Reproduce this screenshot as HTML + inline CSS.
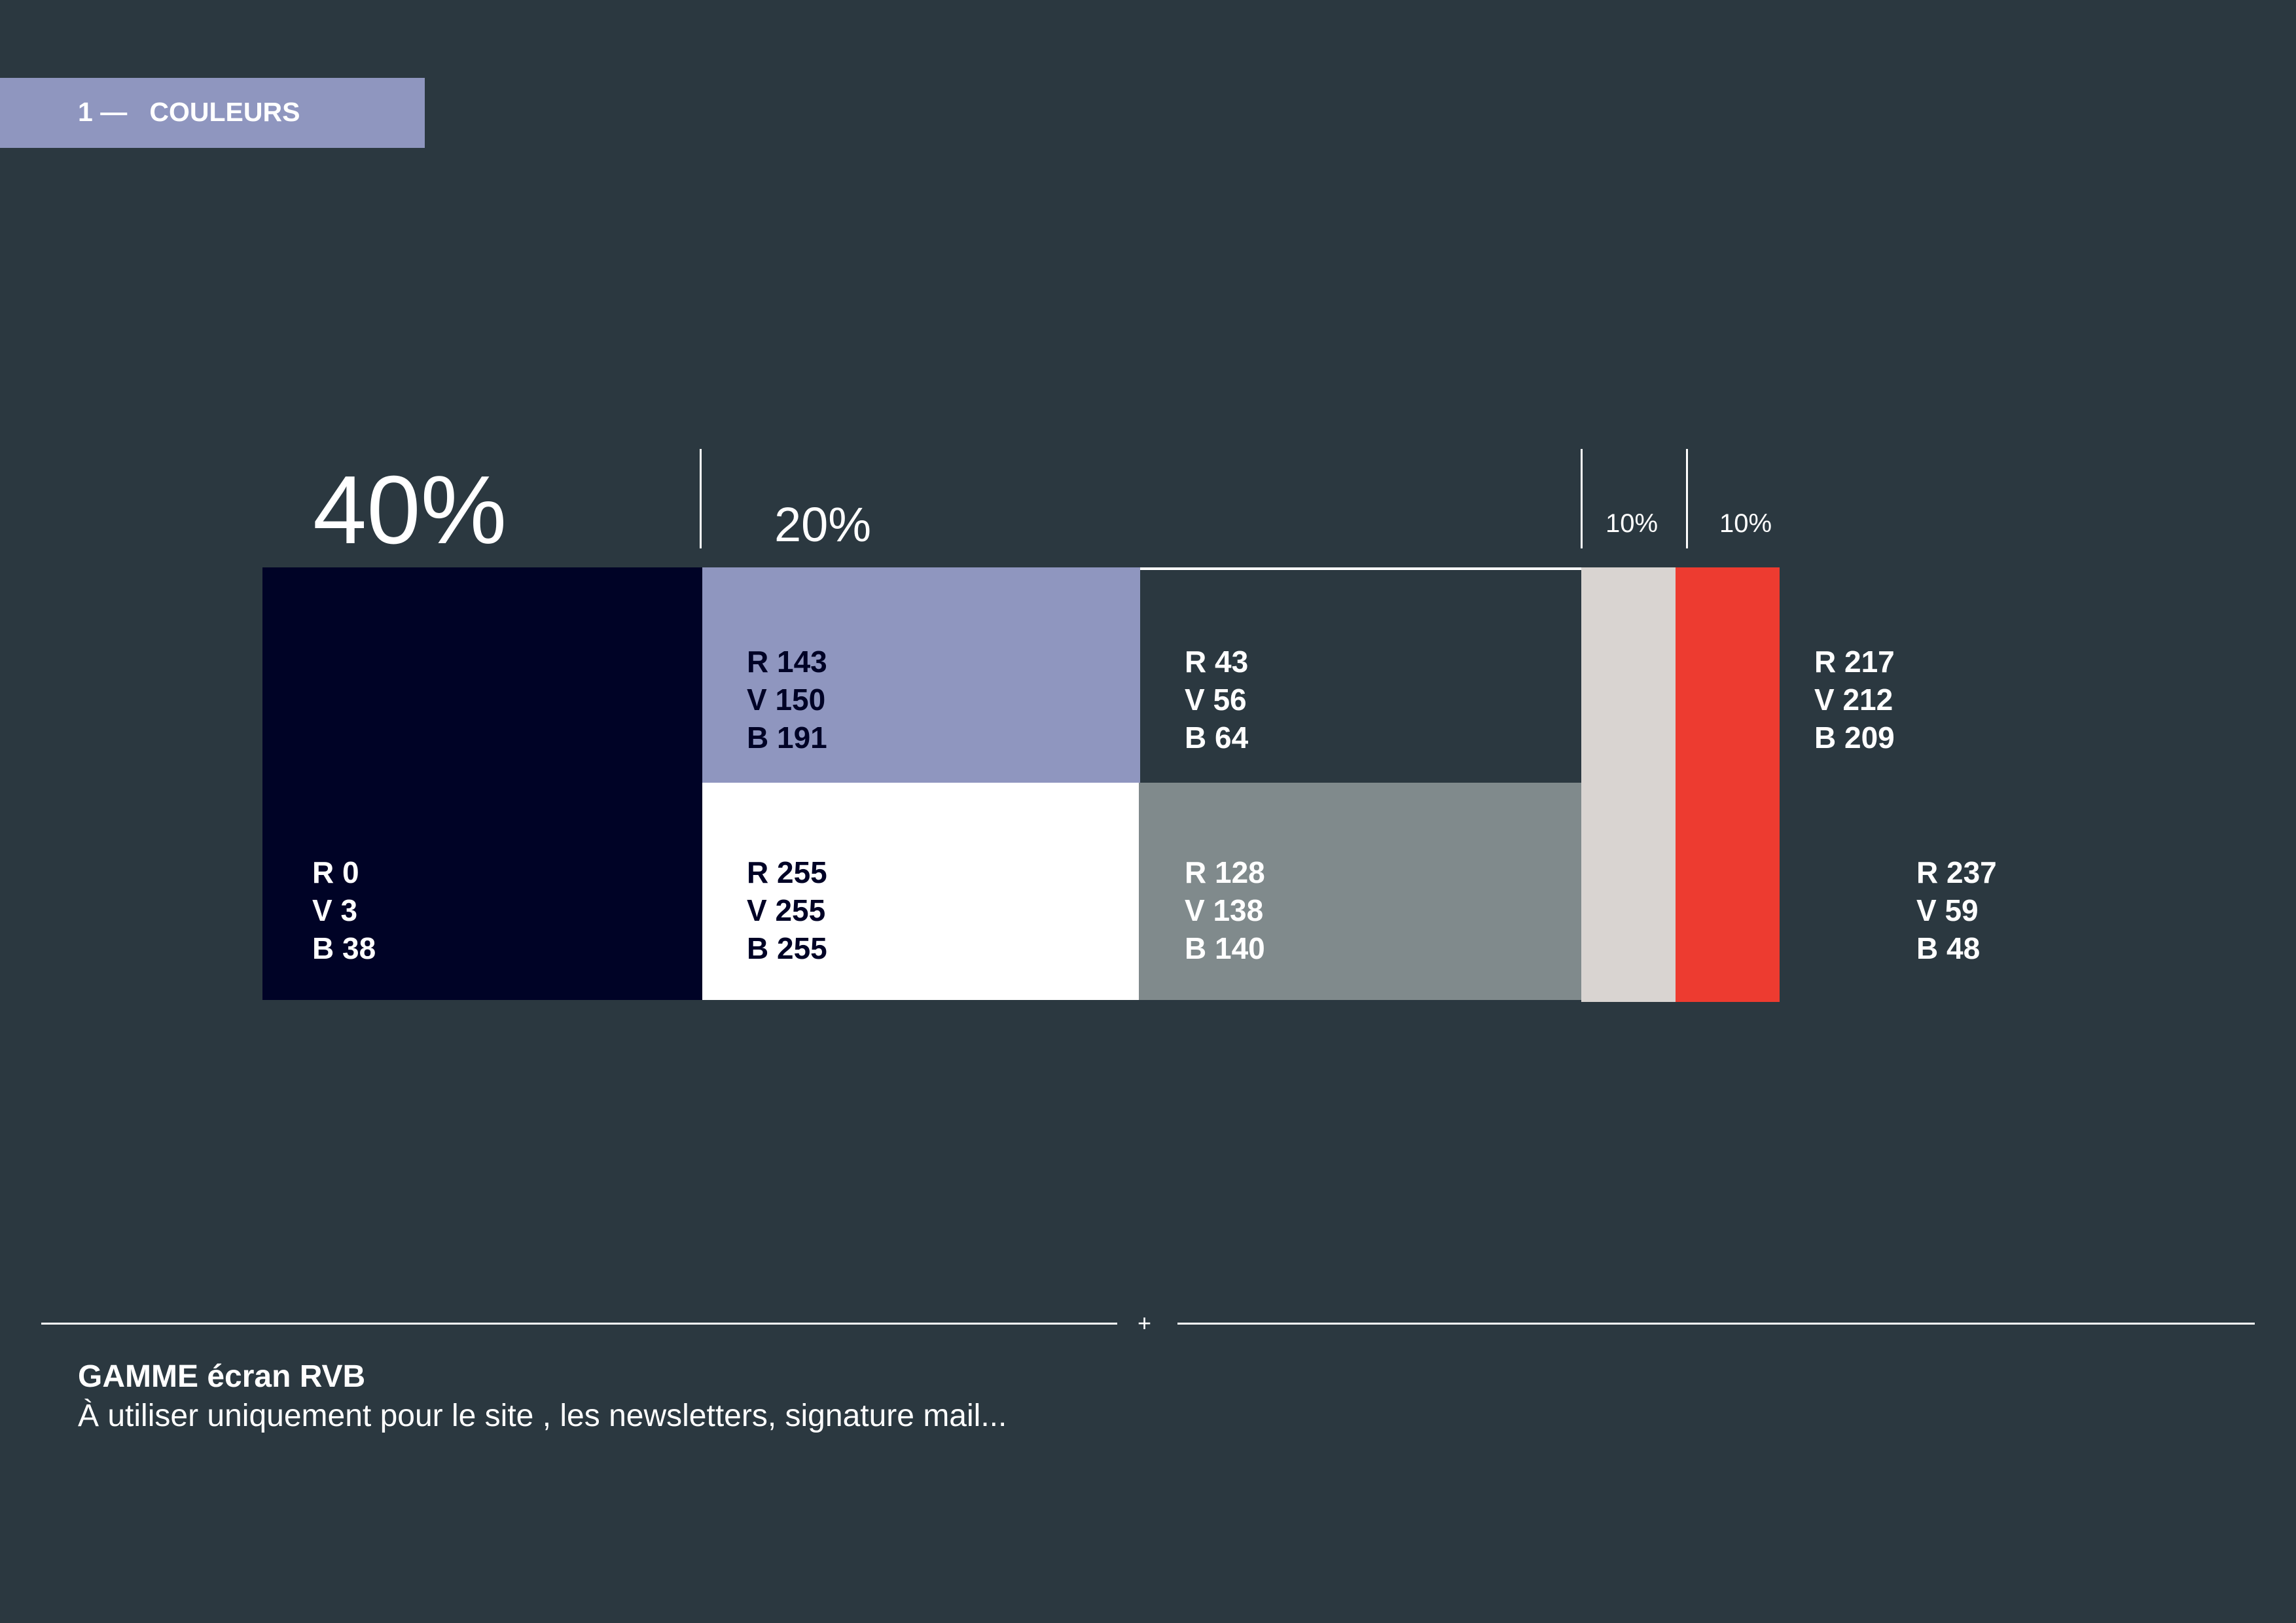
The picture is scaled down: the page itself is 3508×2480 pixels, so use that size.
<!DOCTYPE html>
<html><head><meta charset="utf-8"><style>
body{margin:0;width:3508px;height:2480px;background:#2b3840;position:relative;overflow:hidden;font-family:"Liberation Sans",sans-serif;color:#fff}
div{position:absolute}
.t{line-height:1;white-space:nowrap}
.lab{font-weight:bold;font-size:46px;line-height:58px;white-space:nowrap}
.vl{width:3px;background:#fff;top:686px;height:152px}
</style></head><body>
<div style="left:0;top:119px;width:649px;height:107px;background:#8f96bf"></div>
<div class="t" style="left:119px;top:151px;font-size:41px;font-weight:bold">1&nbsp;—&nbsp;&nbsp;&nbsp;COULEURS</div>

<div class="t" style="left:478px;top:706px;font-size:148px">40%</div>
<div class="t" style="left:1183px;top:765px;font-size:74px">20%</div>
<div class="t" style="left:2453px;top:780px;font-size:40px">10%</div>
<div class="t" style="left:2627px;top:780px;font-size:40px">10%</div>
<div class="vl" style="left:1069px"></div>
<div class="vl" style="left:2415px"></div>
<div class="vl" style="left:2576px"></div>

<div style="left:401px;top:867px;width:672px;height:661px;background:#000326"></div>
<div style="left:1073px;top:867px;width:669px;height:329px;background:#8f96bf"></div>
<div style="left:1073px;top:1196px;width:669px;height:332px;background:#fff"></div>
<div style="left:1742px;top:867px;width:674px;height:4px;background:#fff"></div>
<div style="left:1740px;top:1196px;width:676px;height:332px;background:#808a8c"></div>
<div style="left:2416px;top:867px;width:144px;height:664px;background:#d9d4d1"></div>
<div style="left:2560px;top:867px;width:159px;height:664px;background:#ed3b30"></div>

<div class="lab" style="left:1141px;top:982px;color:#000326">R 143<br>V 150<br>B 191</div>
<div class="lab" style="left:1810px;top:982px">R 43<br>V 56<br>B 64</div>
<div class="lab" style="left:2772px;top:982px">R 217<br>V 212<br>B 209</div>
<div class="lab" style="left:477px;top:1304px">R 0<br>V 3<br>B 38</div>
<div class="lab" style="left:1141px;top:1304px;color:#000326">R 255<br>V 255<br>B 255</div>
<div class="lab" style="left:1810px;top:1304px">R 128<br>V 138<br>B 140</div>
<div class="lab" style="left:2928px;top:1304px">R 237<br>V 59<br>B 48</div>

<div style="left:63px;top:2021px;width:1644px;height:3px;background:#fff"></div>
<div class="t" style="left:1738px;top:2004px;font-size:36px">+</div>
<div style="left:1799px;top:2021px;width:1646px;height:3px;background:#fff"></div>
<div class="t" style="left:119px;top:2080px;font-size:48px;font-weight:bold">GAMME écran RVB</div>
<div class="t" style="left:119px;top:2140px;font-size:48px">À utiliser uniquement pour le site , les newsletters, signature mail...</div>
</body></html>
